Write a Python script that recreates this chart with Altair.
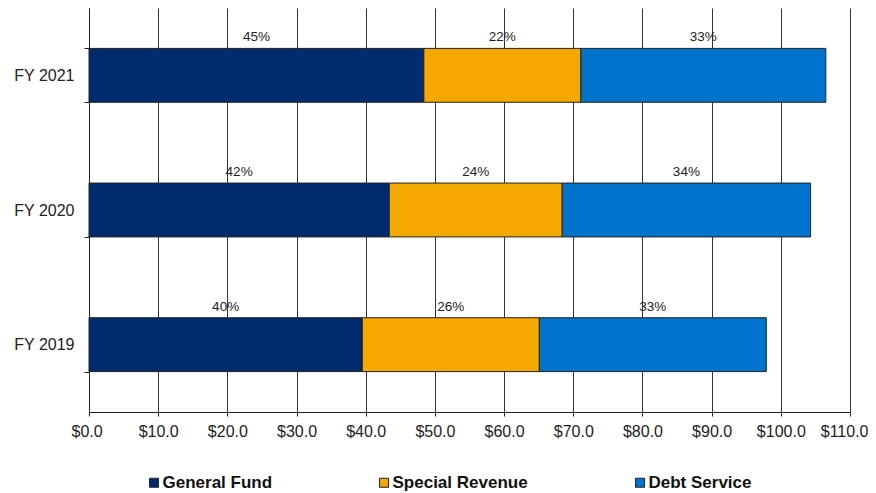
import altair as alt
import pandas as pd

years = ["FY 2021", "FY 2020", "FY 2019"]
funds = ["General Fund", "Special Revenue", "Debt Service"]
general_fund = [48.4, 43.4, 39.5]
special_revenue = [22.7, 25.0, 25.6]
debt_service = [35.4, 35.9, 32.8]
gf_pct = ["45%", "42%", "40%"]
sr_pct = ["22%", "24%", "26%"]
ds_pct = ["33%", "34%", "33%"]
colors = ["#002B6F", "#F5A800", "#0073CC"]
x_ticks = [0, 10, 20, 30, 40, 50, 60, 70, 80, 90, 100, 110]

rows = []
for vals, pcts, fund, k in [(general_fund, gf_pct, funds[0], 0),
                            (special_revenue, sr_pct, funds[1], 1),
                            (debt_service, ds_pct, funds[2], 2)]:
    for y, v, p in zip(years, vals, pcts):
        rows.append({"year": y, "fund": fund, "value": v, "pct": p, "order": k})
df = pd.DataFrame(rows)

FONT = "Liberation Sans"

base = alt.Chart(df).transform_stack(
    stack="value", as_=["x0", "x1"], groupby=["year"], sort=[alt.SortField("order")]
).transform_calculate(mid="(datum.x0 + datum.x1) / 2")

yenc = alt.Y("year:N", sort=years, title=None,
             scale=alt.Scale(paddingInner=0.6, paddingOuter=0.3),
             axis=alt.Axis(tickBand="extent", tickSize=5, tickColor="#222",
                           domainColor="#222", labelFont=FONT, labelFontSize=16,
                           labelColor="#222", labelPadding=10, grid=False))

xscale = alt.Scale(domain=[0, 110], nice=False)

bars = base.mark_bar(stroke="#222", strokeWidth=1).encode(
    x=alt.X("x0:Q", scale=xscale, title=None,
            axis=alt.Axis(values=x_ticks, format="$.1f", grid=True, gridColor="#333",
                          gridWidth=1, tickSize=4, tickColor="#222", domainColor="#222",
                          labelFont=FONT, labelFontSize=16, labelColor="#222",
                          labelPadding=7, labelOverlap=False, labelFlush=True,
                          labelFlushOffset=18)),
    x2="x1:Q",
    y=yenc,
    color=alt.Color("fund:N", sort=funds,
                    scale=alt.Scale(domain=funds, range=colors),
                    legend=alt.Legend(title=None, orient="none", legendX=56.5, legendY=466,
                                      direction="horizontal", columns=3,
                                      columnPadding=103, symbolType="square",
                                      symbolSize=81, symbolStrokeColor="#222",
                                      symbolStrokeWidth=1, labelOffset=0,
                                      labelFont=FONT, labelFontSize=17,
                                      labelFontWeight="bold", labelColor="#111")),
    order=alt.Order("order:Q"),
)

labels = base.mark_text(font=FONT, fontSize=13.5, color="#222", baseline="middle",
                        dy=-38).encode(
    x=alt.X("mid:Q", scale=xscale),
    y=alt.Y("year:N", sort=years),
    text="pct:N",
)

chart = alt.layer(bars, labels).properties(
    width=761, height=404,
    autosize=alt.AutoSizeParams(type="none"),
    padding={"left": 81, "top": 0, "right": 18, "bottom": 85},
    background="white",
).configure_view(strokeWidth=0)

chart.save("out.html", embed_options={"renderer": "svg", "actions": False})
